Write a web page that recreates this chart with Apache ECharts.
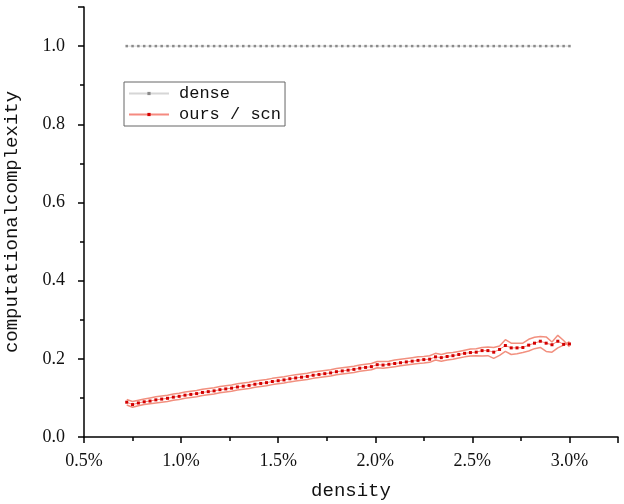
<!DOCTYPE html>
<html>
<head>
<meta charset="utf-8">
<script src="https://cdn.jsdelivr.net/npm/echarts@6/dist/echarts.min.js"></script>
<style>
  html, body { margin: 0; padding: 0; background: #fff; }
  #container { width: 624px; height: 504px; }
</style>
</head>
<body>
<div id="container"></div>
<script>
// density (%) for each measured point
var densityX = [0.72,0.75,0.78,0.81,0.84,0.87,0.90,0.93,0.96,0.99,
  1.02,1.05,1.08,1.11,1.14,1.17,1.20,1.23,1.26,1.29,
  1.32,1.35,1.38,1.41,1.44,1.47,1.50,1.53,1.56,1.59,
  1.62,1.65,1.68,1.71,1.74,1.77,1.80,1.83,1.86,1.89,
  1.92,1.95,1.98,2.01,2.04,2.07,2.10,2.13,2.16,2.19,
  2.22,2.25,2.28,2.31,2.34,2.37,2.40,2.43,2.46,2.49,
  2.52,2.55,2.58,2.61,2.64,2.67,2.70,2.73,2.76,2.79,
  2.82,2.85,2.88,2.91,2.94,2.97,3.00];

var denseValues = [1,1,1,1,1,1,1,1,1,1, 1,1,1,1,1,1,1,1,1,1,
  1,1,1,1,1,1,1,1,1,1, 1,1,1,1,1,1,1,1,1,1,
  1,1,1,1,1,1,1,1,1,1, 1,1,1,1,1,1,1,1,1,1,
  1,1,1,1,1,1,1,1,1,1, 1,1,1,1,1,1,1];

var oursMean = [0.089,0.083,0.087,0.090,0.092,0.095,0.097,0.099,0.102,0.104,
  0.107,0.109,0.111,0.114,0.116,0.118,0.121,0.123,0.125,0.128,
  0.130,0.132,0.135,0.137,0.139,0.142,0.144,0.146,0.149,0.151,
  0.153,0.155,0.158,0.160,0.162,0.164,0.167,0.169,0.171,0.173,
  0.176,0.178,0.180,0.185,0.184,0.186,0.188,0.190,0.192,0.194,
  0.196,0.198,0.199,0.205,0.203,0.206,0.208,0.211,0.214,0.216,
  0.217,0.221,0.221,0.217,0.224,0.234,0.228,0.228,0.229,0.235,
  0.240,0.245,0.240,0.236,0.245,0.237,0.238];

var oursUpper = [0.096,0.091,0.094,0.097,0.100,0.103,0.105,0.107,0.110,0.112,
  0.115,0.117,0.119,0.122,0.124,0.126,0.129,0.131,0.133,0.136,
  0.138,0.140,0.143,0.145,0.147,0.150,0.152,0.154,0.157,0.159,
  0.161,0.163,0.166,0.168,0.170,0.172,0.175,0.177,0.179,0.181,
  0.184,0.186,0.188,0.193,0.193,0.194,0.197,0.199,0.201,0.203,
  0.205,0.206,0.208,0.214,0.211,0.215,0.216,0.219,0.222,0.225,
  0.226,0.229,0.230,0.229,0.233,0.249,0.240,0.240,0.240,0.250,
  0.255,0.257,0.256,0.243,0.260,0.247,0.231];

var oursLower = [0.082,0.076,0.080,0.083,0.085,0.087,0.089,0.091,0.094,0.096,
  0.099,0.101,0.103,0.106,0.108,0.110,0.113,0.115,0.117,0.120,
  0.122,0.124,0.127,0.129,0.131,0.134,0.136,0.138,0.141,0.143,
  0.145,0.147,0.150,0.152,0.154,0.156,0.159,0.161,0.163,0.165,
  0.168,0.170,0.172,0.177,0.176,0.178,0.180,0.182,0.184,0.186,
  0.188,0.189,0.191,0.197,0.194,0.197,0.199,0.202,0.205,0.207,
  0.208,0.207,0.208,0.201,0.209,0.219,0.211,0.213,0.216,0.220,
  0.226,0.229,0.219,0.217,0.228,0.235,0.244];

function pairs(ys) {
  return densityX.map(function (x, i) { return [x, ys[i]]; });
}

var myChart = echarts.init(document.getElementById('container'), null, { renderer: 'canvas' });

var serif = 'Liberation Serif';
var mono = 'Liberation Mono';

var option = {
  animation: false,
  backgroundColor: '#fff',
  grid: { left: 84, right: 6, top: 7, bottom: 67, containLabel: false, outerBoundsMode: 'none' },
  legend: {
    orient: 'vertical',
    left: 124,
    top: 82,
    data: ['dense', 'ours / scn'],
    borderColor: '#666',
    borderWidth: 1,
    backgroundColor: '#fff',
    padding: [3, 4, 3, 4],
    itemWidth: 40,
    itemHeight: 4,
    itemGap: 4,
    textStyle: { fontFamily: mono, fontSize: 17, color: '#111', padding: [0, 0, 0, 5] }
  },
  xAxis: {
    type: 'value',
    min: 0.5,
    max: 3.25,
    interval: 0.5,
    name: 'density',
    nameLocation: 'middle',
    nameGap: 44,
    nameTextStyle: { fontFamily: mono, fontSize: 19, color: '#111' },
    axisLine: { lineStyle: { color: '#000', width: 1.5 } },
    axisTick: { show: true, inside: false, length: 6, lineStyle: { color: '#000', width: 1.5 } },
    minorTick: { show: true, splitNumber: 2, length: 4, lineStyle: { color: '#000', width: 1.5 } },
    splitLine: { show: false },
    axisLabel: {
      margin: 15,
      fontFamily: serif,
      fontSize: 18,
      color: '#111',
      showMaxLabel: false,
      formatter: function (v) { return v.toFixed(1) + '%'; }
    }
  },
  yAxis: {
    type: 'value',
    min: 0,
    max: 1.1,
    interval: 0.2,
    name: 'computationalcomplexity',
    nameLocation: 'middle',
    nameGap: 63,
    nameTextStyle: { fontFamily: mono, fontSize: 19, color: '#111' },
    axisLine: { show: true, lineStyle: { color: '#000', width: 1.5 } },
    axisTick: { show: true, inside: false, length: 6, lineStyle: { color: '#000', width: 1.5 } },
    minorTick: { show: true, splitNumber: 2, length: 4, lineStyle: { color: '#000', width: 1.5 } },
    splitLine: { show: false },
    axisLabel: {
      margin: 19,
      fontFamily: serif,
      fontSize: 18,
      color: '#111',
      showMaxLabel: false,
      formatter: function (v) { return v.toFixed(1); }
    }
  },
  series: [
    {
      name: 'dense',
      type: 'line',
      data: pairs(denseValues),
      symbol: 'rect',
      symbolSize: 2.5,
      showSymbol: true,
      itemStyle: { color: '#8a8a8a' },
      lineStyle: { color: '#d6d6d6', width: 1 }
    },
    {
      name: 'upper',
      type: 'line',
      data: pairs(oursUpper),
      showSymbol: false,
      symbol: 'none',
      lineStyle: { color: '#f2907f', width: 1.5 },
      z: 2
    },
    {
      name: 'lower',
      type: 'line',
      data: pairs(oursLower),
      showSymbol: false,
      symbol: 'none',
      lineStyle: { color: '#f2907f', width: 1.5 },
      z: 2
    },
    {
      name: 'ours / scn',
      type: 'line',
      data: pairs(oursMean),
      symbol: 'rect',
      symbolSize: 3,
      showSymbol: true,
      itemStyle: { color: '#d40000' },
      lineStyle: { color: '#f58a80', width: 1 },
      z: 3
    }
  ]
};

myChart.setOption(option);
window.addEventListener('resize', myChart.resize);
</script>
</body>
</html>
